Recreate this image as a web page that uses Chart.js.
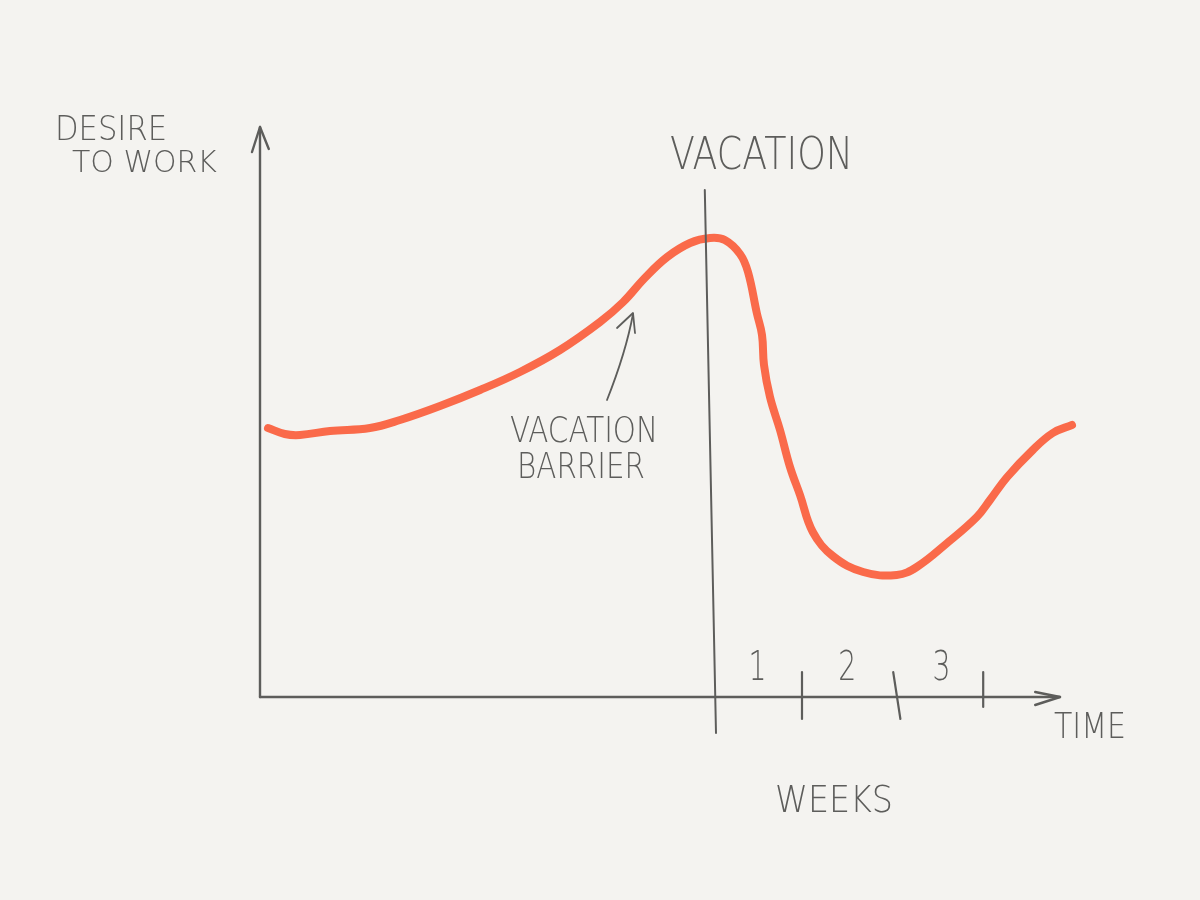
<!DOCTYPE html>
<html>
<head>
<meta charset="utf-8">
<script src="https://cdn.jsdelivr.net/npm/chart.js@4.4.1/dist/chart.umd.min.js"></script>
<style>
  html, body { margin: 0; background: #f4f3f0; }
  canvas { display: block; }
</style>
</head>
<body>
<canvas id="sketch" width="1200" height="900"></canvas>
<script>
// === Data (x = time, y = desire to work) ===
const timeX = [1, 3.1, 5, 8.75, 13.75, 17.5, 22.5, 27.5, 32.5, 37.5, 42.5, 45.4, 48.1, 50.9,
  53.75, 56.25, 58.1, 60, 61, 62.1, 62.75, 63, 63.75, 65, 66.25, 67.5, 69.1, 71.6, 75.4,
  79.6, 82.1, 85.9, 89.6, 91.25, 93.4, 96.6, 99.1, 101.5];
const desireY = [53.8, 52.6, 52.4, 53.2, 53.8, 55.4, 58.2, 61.4, 65, 69.4, 75, 79, 83.8, 88,
  90.8, 91.8, 91.4, 88.6, 85, 76.8, 72.4, 66.4, 60, 53.4, 46, 40.4, 33, 28.2, 25,
  24.4, 26, 30.8, 36, 39.4, 44, 49.4, 52.8, 54.4];

// vacation marker (slightly slanted pen stroke: top x, bottom x)
const vacationX = [55.6, 57];
// week boundary ticks after the vacation starts, and their labels
const weekTicks = [67.75, 79.6, 90.4];
const weekLabels = ['1', '2', '3'];
const weekLabelX = [62.2, 73.4, 85.2];

const INK = '#5d5d5b';

// draws text stretched into a box, to look like the hand lettering
function hand(ctx, text, x0, y0, x1, y1) {
    const h = y1 - y0;
    ctx.save();
    ctx.font = `200 ${Math.round(h / 0.73)}px "DejaVu Sans"`;
    ctx.fillStyle = INK;
    ctx.textBaseline = 'alphabetic';
    const w = ctx.measureText(text).width;
    ctx.translate(x0, y1);
    ctx.scale((x1 - x0) / w, 1);
    ctx.fillText(text, 0, 0);
    ctx.restore();
}

function stroke(ctx, pts, width) {
    ctx.beginPath();
    ctx.moveTo(pts[0][0], pts[0][1]);
    for (let i = 1; i < pts.length; i++) ctx.lineTo(pts[i][0], pts[i][1]);
    ctx.lineWidth = width;
    ctx.stroke();
}

const sketchPlugin = {
    id: 'sketchPlugin',
    beforeDraw(chart) {
        const ctx = chart.ctx;
        ctx.save();
        ctx.fillStyle = '#f4f3f0';
        ctx.fillRect(0, 0, chart.width, chart.height);
        ctx.restore();
    },
    afterDatasetsDraw(chart) {
        const ctx = chart.ctx;
        const xs = chart.scales.x, ys = chart.scales.y;
        const X = v => xs.getPixelForValue(v);
        const Y = v => ys.getPixelForValue(v);

        ctx.save();
        ctx.strokeStyle = INK;
        ctx.lineCap = 'round';
        ctx.lineJoin = 'round';

        // y axis with arrow
        stroke(ctx, [[X(0), Y(0)], [X(0), Y(114)]], 2.4);
        stroke(ctx, [[X(-1), Y(109)], [X(0), Y(114)], [X(1.1), Y(109.6)]], 2.4);
        // x axis with arrow
        stroke(ctx, [[X(0), Y(0)], [X(100), Y(0)]], 2.4);
        stroke(ctx, [[X(96.9), Y(1)], [X(100), Y(0)], [X(96.9), Y(-1.6)]], 2.4);

        // vacation line
        stroke(ctx, [[X(vacationX[0]), Y(101.4)], [X(vacationX[1]), Y(-7.2)]], 2);

        // week ticks
        weekTicks.forEach((t, i) => {
            const lean = i === 1 ? 0.9 : 0;
            stroke(ctx, [[X(t - lean / 2), Y(5)], [X(t + lean / 2), Y(i === 2 ? -2 : -4.4)]], 2.2);
        });

        // arrow pointing at the curve
        ctx.beginPath();
        ctx.moveTo(607, 400);
        ctx.quadraticCurveTo(626, 352, 633, 314);
        ctx.lineWidth = 1.8;
        ctx.stroke();
        stroke(ctx, [[617, 328], [633, 313], [635, 333]], 1.8);
        ctx.restore();

        // lettering
        hand(ctx, 'DESIRE', 55, 115, 167, 140);
        hand(ctx, 'TO WORK', 72, 150, 217, 172);
        hand(ctx, 'VACATION', 670, 136, 853, 169);
        hand(ctx, 'VACATION', 510, 416, 658, 442);
        hand(ctx, 'BARRIER', 517, 452, 645, 478);
        hand(ctx, 'TIME', 1054, 712, 1126, 738);
        hand(ctx, 'WEEKS', 775, 785, 893, 812);
        weekLabels.forEach((lab, i) => {
            const cx = X(weekLabelX[i]);
            hand(ctx, lab, cx - 9, 650, cx + 9, 680);
        });
    }
};

new Chart(document.getElementById('sketch'), {
    type: 'line',
    data: {
        datasets: [{
            data: timeX.map((x, i) => ({ x: x, y: desireY[i] })),
            borderColor: '#fa6a4a',
            borderWidth: 8,
            borderCapStyle: 'round',
            borderJoinStyle: 'round',
            pointRadius: 0,
            tension: 0.4,
            fill: false
        }]
    },
    options: {
        responsive: false,
        animation: false,
        events: [],
        layout: { padding: { left: 260, right: 100, top: 122, bottom: 103 } },
        plugins: { legend: { display: false }, tooltip: { enabled: false } },
        scales: {
            x: { type: 'linear', min: 0, max: 105, display: false },
            y: { min: -20, max: 115, display: false }
        }
    },
    plugins: [sketchPlugin]
});
</script>
</body>
</html>
